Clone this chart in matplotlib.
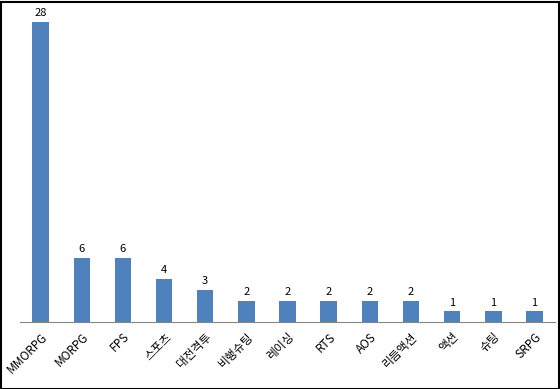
import matplotlib
matplotlib.use("Agg")
import matplotlib.pyplot as plt
from matplotlib.patches import Rectangle

plt.rcParams['font.family'] = ['Noto Sans CJK KR', 'DejaVu Sans']

categories = ["MMORPG", "MORPG", "FPS", "스포츠", "대전격투", "비행슈팅", "레이싱",
              "RTS", "AOS", "리듬액션", "액션", "슈팅", "SRPG"]
values = [28, 6, 6, 4, 3, 2, 2, 2, 2, 2, 1, 1, 1]

W, H = 560, 389
fig = plt.figure(figsize=(W/100, H/100), dpi=100)
ax = fig.add_axes([20/W, (H-322)/H, 535/W, 312/H])

x = list(range(len(categories)))
bars = ax.bar(x, values, width=0.4, color='#4F81BD')
ax.set_xlim(-0.5, len(categories)-0.5)
ax.set_ylim(0, 312/ (300/28))

for xi, v in zip(x, values):
    ax.text(xi, v + 0.35, str(v), ha='center', va='bottom', fontsize=8, color='black')

ax.set_xticks(x)
ax.set_xticklabels(categories, rotation=45, ha='right', va='top', rotation_mode='anchor', fontsize=8.5)
ax.tick_params(axis='x', length=0, pad=6)
ax.set_yticks([])
for s in ['top', 'right', 'left']:
    ax.spines[s].set_visible(False)
ax.spines['bottom'].set_color('#868686')

fig.patches.append(Rectangle((0.5/W, 0.5/H), 1-2/W, 1-2/H, transform=fig.transFigure,
                             fill=False, edgecolor='black', linewidth=1.5))

fig.savefig('out.png', dpi=100)
